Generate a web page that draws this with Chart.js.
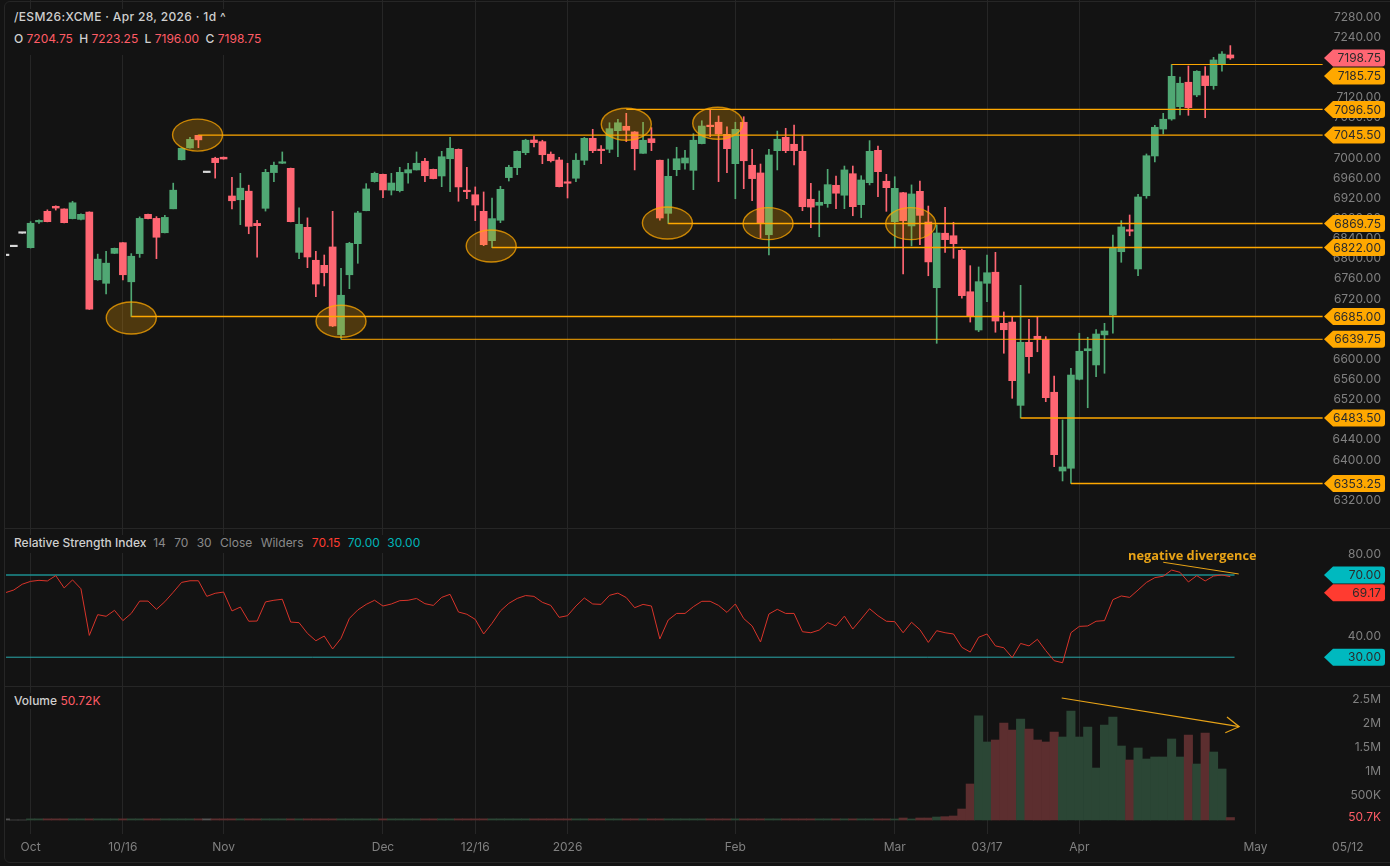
<!DOCTYPE html>
<html>
<head>
<meta charset="utf-8">
<title>/ESM26:XCME</title>
<script src="https://cdn.jsdelivr.net/npm/chart.js@4"></script>
<style>
    html, body { margin: 0; padding: 0; background: #131313; }
    body { width: 1390px; height: 866px; position: relative; overflow: hidden; font-family: Inter, sans-serif; }
    canvas { position: absolute; left: 0; display: block; }
    #frame { position: absolute; left: 4px; top: 1px; width: 1400px; height: 860px; border: 1px solid #262626; border-radius: 6px; box-sizing: content-box; }
    .divider { position: absolute; left: 5px; width: 1385px; height: 1px; background: #262626; }
    .legend { position: absolute; left: 14px; font-size: 12px; line-height: 16px; white-space: nowrap; color: #8a8a8a; background: #131313; padding-right: 6px; }
    .legend b { font-weight: 500; color: #cfcfcf; }
    .legend span { margin-right: 5px; }
    .red { color: #ff5c66; }
    .rsiRed { color: #ff3b30; }
    .teal { color: #00b3b8; }
    #note { position: absolute; left: 1128px; top: 546px; font: bold 12.8px "Open Sans", sans-serif; color: #e8a317; white-space: nowrap; }
</style>
</head>
<body>
<canvas id="priceChart" width="1390" height="528" style="top:0"></canvas>
<canvas id="rsiChart" width="1390" height="157" style="top:529px"></canvas>
<canvas id="volumeChart" width="1390" height="179" style="top:687px"></canvas>
<div id="frame"></div>
<div class="divider" style="top:528px"></div>
<div class="divider" style="top:686px"></div>
<div class="legend" style="top:9px; height:46px; width:270px; letter-spacing:0.35px">
    <b>/ESM26:XCME · Apr 28, 2026 · 1d ^</b><br>
    <div style="margin-top:6px; letter-spacing:0"><b>O</b> <span class="red" style="margin-right:3px">7204.75</span> <b>H</b> <span class="red" style="margin-right:3px">7223.25</span> <b>L</b> <span class="red" style="margin-right:3px">7196.00</span> <b>C</b> <span class="red">7198.75</span></div>
</div>
<div class="legend" style="top:535px; height:18px">
    <b>Relative Strength Index</b>&nbsp; <span>14</span> <span>70</span> <span>30</span> <span>Close</span> <span>Wilders</span> <span class="rsiRed" style="margin-right:4px">70.15</span> <span class="teal" style="margin-right:4px">70.00</span> <span class="teal">30.00</span>
</div>
<div class="legend" style="top:693px">
    <b>Volume</b> <span class="red">50.72K</span>
</div>
<div id="note">negative divergence</div>

<script>
// Candles, one entry per trading day. The first entry sits 3 days left of the Oct tick.
const firstDay = -3;

const opens = [6806, 6823.75, 6850.5,
    6821.75, 6873, 6894, 6904, 6898.75, 6879.5, 6878, 6892.75, 6758, 6751,
    6810.5, 6831.75, 6754, 6810, 6888, 6880, 6851.5, 6899, 6996.5, 7020,
    7045, 6971, 6999.5, 7001.5, 6924.5, 6917, 6934, 6870, 6900, 6971,
    6989.5, 6979.5, 6812.5, 6862.25, 6796.75, 6786.75, 6823.25, 6649, 6768, 6829.75,
    6895.25, 6953, 6967.5, 6936, 6935, 6970.25, 6976.25, 6993.5, 6977.5, 6964.25,
    6998.5, 7017.25, 6935, 6927, 6894, 6835.75, 6876.25, 6961, 6980.75, 7010.5,
    7035.75, 7032.5, 7007.5, 6996, 6951.75, 6959.75, 6995.5, 7039, 7017.25, 7017.25,
    7054.25, 7063, 7051.75, 7009.25, 7038.25, 6995.5, 6890, 6976.75, 6990, 6975.5,
    7028.5, 7065, 7071, 7047, 6988.75, 7071, 6985.5, 6970.25, 6847.5, 7014.5,
    7041, 7027.25, 7013.25, 6918, 6906, 6909.25, 6945.75, 6926, 6968.75, 6907.25,
    6951, 7015.25, 6953.75, 6873.5, 6931, 6865, 6933.75, 6872.75, 6742.25, 6850.5,
    6845.5, 6816.5, 6734.25, 6658.25, 6751, 6773, 6671.5, 6674, 6508.5, 6633.75,
    6645.75, 6639, 6534.5, 6378, 6383.5, 6560.25, 6617, 6588.75, 6648.5, 6688,
    6813.75, 6857.5, 6779.5, 6925, 7004, 7057.5, 7077.5, 7102, 7150.5, 7125.25,
    7163, 7143.75, 7186.25, 7204.75];

const highs = [6806, 6823.75, 6850.5,
    6873.5, 6877, 6897, 6905, 6899, 6914, 6889, 6893, 6809, 6814.5,
    6821, 6832, 6810, 6883, 6888.5, 6883.5, 6886, 6950, 7020, 7041,
    7045.5, 6971, 7001.5, 7002, 6961.5, 6969.5, 6946, 6876, 6977.5, 6992,
    7012, 6980, 6901, 6881, 6814.5, 6807.25, 6894, 6780.75, 6832.5, 6894,
    6949, 6972, 6968, 6969.5, 6981.5, 6989.5, 7012, 6999.5, 6978, 7013.25,
    7041, 7018, 6981.5, 6942.5, 6932.5, 6920.5, 6943.75, 6985.5, 7014, 7037.25,
    7043.75, 7035.25, 7012, 7001.5, 6989.5, 7008.5, 7041, 7057, 7024.5, 7070,
    7077, 7088.75, 7052.5, 7071, 7060.25, 6996, 6998, 7021.25, 7015.25, 7048.25,
    7074, 7096.5, 7083.5, 7062, 7071, 7082, 7017.25, 6988, 7017.25, 7053.5,
    7059, 7065.5, 7043.75, 6949.75, 6934.5, 6977.5, 6964.25, 6984, 6984, 6964.75,
    7034.5, 7023.75, 6967.5, 6962.75, 6932, 6946.5, 6954.25, 6904.5, 6867, 6902,
    6872.25, 6819, 6786, 6783.5, 6807.25, 6812.5, 6694, 6685, 6747, 6679.5,
    6683.5, 6645, 6566.75, 6479.5, 6582, 6651.75, 6643.75, 6659, 6671.5, 6847,
    6875.5, 6886.75, 6928, 7008, 7065, 7088.75, 7185.75, 7160.5, 7182.75, 7173.5,
    7181.5, 7200, 7211.25, 7223.25];

const lows = [6806, 6823.75, 6850.5,
    6821, 6870, 6873, 6896.5, 6871, 6879, 6877, 6699, 6757, 6730,
    6810, 6757.5, 6685, 6802.5, 6879, 6800, 6851, 6899, 6996, 7019.5,
    7020.5, 6971, 6960, 6997.5, 6899, 6867.5, 6849.5, 6803, 6894.5, 6953,
    6989, 6873, 6800, 6782, 6724.5, 6745.75, 6665, 6639.75, 6740.25, 6790.75,
    6895, 6952, 6921, 6926.5, 6932.5, 6949.75, 6976, 6953, 6958.5, 6943,
    6933, 6914, 6919, 6875.5, 6825.75, 6822, 6871.5, 6954.25, 6966.75, 7006.5,
    7022, 6988.75, 6992, 6942.5, 6920.5, 6953, 6986.75, 7010.5, 6988.75, 7010.5,
    7002.5, 7032.5, 6976.25, 7009, 7014.5, 6876.25, 6869.75, 6964.75, 6978, 6937,
    7028, 7042.25, 6953, 6970.75, 6919, 6939, 6915.25, 6841, 6807.25, 6976.25,
    7010.5, 6986, 6895.25, 6861.5, 6843.5, 6902, 6899.25, 6899.25, 6885.25, 6881.5,
    6946.5, 6923, 6894, 6822.5, 6769.5, 6825.25, 6827.75, 6766, 6631.75, 6812.5,
    6800.75, 6721.25, 6674, 6655, 6714.5, 6653.75, 6612, 6522.5, 6483.5, 6572.25,
    6615, 6515.75, 6386.5, 6358.25, 6353.25, 6559, 6503.75, 6565.5, 6572.25, 6651.75,
    6792.75, 6845.5, 6766, 6920, 6992, 7047.75, 7075, 7085.5, 7084.75, 7121.75,
    7080, 7136.5, 7172.25, 7196];

const closes = [6806, 6823.75, 6850.5,
    6870.25, 6876, 6873.5, 6900.5, 6871.5, 6911, 6888, 6699.5, 6799, 6791,
    6820.5, 6768, 6804.75, 6880, 6879.5, 6842.5, 6882, 6936, 7019.25, 7037,
    7036, 6971, 6990.75, 6998, 6915, 6940, 6864.25, 6865.5, 6971.5, 6985.5,
    6991.5, 6873.5, 6868.25, 6803.25, 6749.5, 6772, 6666.25, 6727.25, 6830.5, 6890.75,
    6938.5, 6969.5, 6936.5, 6950.25, 6971.5, 6976.75, 6989.5, 6964.75, 6959, 7002.5,
    7019.25, 6942.5, 6933, 6906.5, 6827.75, 6879.5, 6937.75, 6981.5, 7013.25, 7035.25,
    7030.5, 7006.5, 6994.5, 6943, 6949.75, 6995.5, 7039, 7014.5, 7014.5, 7058.25,
    7070, 7055, 7018.5, 7035.25, 7030.5, 6880.75, 6963.5, 6998.5, 7000, 7035.25,
    7063.5, 7062.25, 7047.75, 7018.5, 7057, 6994.5, 6959, 6870.75, 7006, 7037.25,
    7014.5, 7014.5, 6903.25, 6902.5, 6912, 6947, 6930, 6976.25, 6903.25, 6956.25,
    7013.25, 6972.75, 6941, 6939.75, 6875.5, 6928.5, 6886, 6793.5, 6851, 6837.75,
    6829.75, 6726.5, 6686, 6754.25, 6772, 6676, 6658.75, 6557.5, 6633.75, 6605.25,
    6639.75, 6523.75, 6410.5, 6386, 6568.75, 6616, 6621, 6650.25, 6656.25, 6822.5,
    6863, 6854.5, 6922.5, 7004.5, 7061, 7077, 7162.25, 7148.5, 7100, 7172.25,
    7143.75, 7194.75, 7206.5, 7198.75];

const rsiValues = [61.4, 62.7, 65.5,
    66.9, 67.4, 67.1, 69.7, 63.7, 67.6, 63.3, 40.6, 50.7, 49.9,
    52.8, 47.8, 51.3, 57.3, 57.3, 53.3, 57, 61.6, 66.4, 67.2,
    67.2, 59.6, 61.1, 61.7, 52.5, 54.4, 47.5, 47.6, 56.9, 57.7,
    58.2, 47.1, 46.8, 41.6, 38, 40.3, 34, 39.2, 48.9, 53,
    55.7, 57.7, 54.9, 55.9, 57.5, 57.7, 58.6, 56.05, 55.2, 59.1,
    60.6, 52, 50.9, 48.4, 41.3, 46.5, 52.5, 56.2, 58.6, 60,
    59.6, 56.7, 55.2, 49.4, 50.2, 54.9, 58.8, 55.9, 55.7, 60.1,
    61.2, 59, 54.1, 55.7, 54.9, 38.9, 48.1, 51.3, 51.3, 54.6,
    57.2, 57.2, 55.2, 51.8, 55.9, 48.8, 45.2, 37.4, 51, 53.3,
    51.3, 51.3, 42.4, 41.9, 43.2, 46.8, 45.2, 50, 43.7, 48.6,
    53.6, 50.2, 47.5, 47.3, 41.9, 47, 43.4, 37.2, 42.9, 41.9,
    41.3, 34.8, 32.5, 39.7, 41.3, 35.5, 34.6, 29.8, 36.7, 35.5,
    38.7, 33.2, 28.3, 27.3, 41.9, 45, 45.2, 47.5, 47.8, 58,
    59.8, 59.1, 62.7, 66.4, 68.7, 69.4, 72.4, 71.3, 66.6, 69.7,
    67.1, 69.5, 70, 69.17];

const volumes = [24000, 0, 0,
    24000, 24000, 24000, 24000, 24000, 24000, 24000, 24000, 24000, 24000,
    24000, 24000, 24000, 24000, 24000, 24000, 24000, 24000, 24000, 24000,
    24000, 24000, 24000, 24000, 24000, 24000, 24000, 24000, 24000, 24000,
    24000, 24000, 24000, 24000, 24000, 24000, 24000, 24000, 24000, 24000,
    24000, 24000, 24000, 24000, 24000, 24000, 24000, 24000, 24000, 24000,
    24000, 24000, 24000, 24000, 24000, 24000, 24000, 24000, 24000, 24000,
    24000, 24000, 24000, 24000, 24000, 24000, 24000, 24000, 24000, 24000,
    24000, 24000, 24000, 24000, 24000, 24000, 24000, 24000, 24000, 24000,
    24000, 24000, 24000, 24000, 24000, 24000, 24000, 24000, 24000, 24000,
    24000, 24000, 24000, 24000, 24000, 24000, 24000, 24000, 24000, 24000,
    24000, 24000, 24000, 21000, 41000, 21000, 41000, 41000, 62000, 69000,
    83000, 227000, 744000, 2150000, 1612000, 1653000, 2004000, 1859000, 2087000, 1880000,
    1653000, 1612000, 1818000, 1715000, 2252000, 1715000, 1921000, 1074000, 1963000, 2128000,
    1529000, 1240000, 1488000, 1260000, 1302000, 1302000, 1674000, 1302000, 1756000, 1157000,
    1797000, 1405000, 1054000, 50720];

// Time axis
const dayTicks = [0, 11, 23, 42, 53, 64, 84, 103, 114, 125, 146, 157];
const dayLabels = ['Oct', '10/16', 'Nov', 'Dec', '12/16', '2026', 'Feb', 'Mar', '03/17', 'Apr', 'May', '05/12'];

// Value axes
const priceTicks = [7280, 7240, 7200, 7160, 7120, 7080, 7040, 7000, 6960, 6920, 6880, 6840, 6800, 6760, 6720, 6680, 6640, 6600, 6560, 6520, 6480, 6440, 6400, 6360, 6320];
const rsiTicks = [80, 40];
const volumeTicks = [2500000, 2000000, 1500000, 1000000, 500000, 50720];
const volumeTickLabels = ['2.5M', '2M', '1.5M', '1M', '500K', '50.7K'];

// Support and resistance levels: start day, price
const levelDays = [136, 71, 20, 76, 55, 12, 37, 118, 124];
const levelPrices = [7185.75, 7096.5, 7045.5, 6869.75, 6822, 6685, 6639.75, 6483.5, 6353.25];
const levelEndDay = 154;

// Circled swing points: day, price
const ringDays = [19.9, 12, 37, 54.9, 75.9, 71, 81.9, 87.9, 104.9];
const ringPrices = [7045.5, 6682, 6675.5, 6825, 6870.75, 7067, 7069, 6869.5, 6869.5];

// Hand drawn trend lines
const rsiTrendDays = [135, 144];
const rsiTrendValues = [76.2, 70.5];
const volArrowDays = [122.9, 144.05];
const volArrowValues = [2520000, 1928000];
const volHeadDays = [142.6, 144.05, 142.4];
const volHeadValues = [2128000, 1928000, 1804000];

const GREEN = '#50a874', RED = '#ff6673', DOJI = '#d8d8d8';
const ORANGE = '#ffa800', TEAL = '#00b9bf';

const days = opens.map((_, i) => firstDay + i);
const candleColors = opens.map((o, i) => closes[i] > o ? GREEN : closes[i] < o ? RED : DOJI);
const volumeColors = opens.map((o, i) => closes[i] > o ? '#2b4635' : closes[i] < o ? '#5c2e2f' : '#555555');

Chart.defaults.font.family = 'Inter, sans-serif';
Chart.defaults.font.size = 12;
Chart.defaults.animation = false;
Chart.defaults.plugins.legend.display = false;
Chart.defaults.plugins.tooltip.enabled = false;

// Shared time axis, day 0 lands on x=30.6 and one day is 8.39px
function timeAxis(showLabels) {
    return {
        type: 'linear',
        min: -2.932,
        max: 162.03,
        offset: false,
        border: { display: false },
        grid: {
            offset: false,
            drawTicks: false,
            color: ctx => ctx.tick && ctx.tick.value === 157 ? 'transparent' : '#262626'
        },
        ticks: {
            display: showLabels,
            autoSkip: false,
            maxRotation: 0,
            padding: 6,
            color: '#808080',
            callback: value => dayLabels[dayTicks.indexOf(value)]
        },
        afterBuildTicks: scale => { scale.ticks = dayTicks.map(value => ({ value })); },
        afterFit: scale => {
            scale.height = showLabels ? 32 : 0;
            scale.paddingLeft = 0;
            scale.paddingRight = 0;
        }
    };
}

function valueAxis(min, max, tickValues, format, color) {
    return {
        position: 'right',
        min: min,
        max: max,
        border: { display: false },
        grid: { display: false, drawTicks: false },
        ticks: {
            mirror: true,
            // mirrored labels are placed from the axis edge, negative pulls them back inside
            padding: -9,
            color: color || '#808080',
            callback: format
        },
        afterBuildTicks: scale => { scale.ticks = tickValues.map(value => ({ value })); },
        afterFit: scale => {
            scale.width = 0;
            scale.paddingTop = 0;
            scale.paddingBottom = 0;
        }
    };
}

function line(points, color, width, order) {
    return {
        type: 'line',
        data: points,
        borderColor: color,
        borderWidth: width,
        pointRadius: 0,
        tension: 0,
        order: order
    };
}

// Right hand price flags
function drawTag(ctx, y, text, color) {
    const left = 1324, body = 1333, right = 1385, half = 8.5, r = 3;
    ctx.fillStyle = color;
    ctx.beginPath();
    ctx.moveTo(left, y);
    ctx.lineTo(body, y - half);
    ctx.arcTo(right, y - half, right, y + half, r);
    ctx.arcTo(right, y + half, body, y + half, r);
    ctx.lineTo(body, y + half);
    ctx.closePath();
    ctx.fill();
    ctx.fillStyle = '#2b2b2b';
    ctx.font = '12px Inter, sans-serif';
    ctx.textAlign = 'right';
    ctx.textBaseline = 'middle';
    ctx.fillText(text, 1381, y + 0.5);
}

const ringsPlugin = {
    id: 'rings',
    afterDatasetsDraw(chart) {
        const { ctx, scales } = chart;
        ctx.save();
        ringDays.forEach((day, i) => {
            ctx.beginPath();
            ctx.ellipse(scales.x.getPixelForValue(day), scales.y.getPixelForValue(ringPrices[i]), 25, 16, 0, 0, Math.PI * 2);
            ctx.fillStyle = 'rgba(255, 168, 0, 0.25)';
            ctx.fill();
            ctx.strokeStyle = 'rgba(255, 168, 0, 0.75)';
            ctx.lineWidth = 1.4;
            ctx.stroke();
        });
        ctx.restore();
    }
};

const priceTagsPlugin = {
    id: 'priceTags',
    afterDraw(chart) {
        const { ctx, scales } = chart;
        ctx.save();
        levelPrices.forEach(price => {
            // 7185.75 is pushed down by the last price flag
            const shift = price === 7185.75 ? 11.5 : 0;
            drawTag(ctx, scales.y.getPixelForValue(price) + shift, price.toFixed(2), ORANGE);
        });
        const last = closes[closes.length - 1];
        drawTag(ctx, scales.y.getPixelForValue(last), last.toFixed(2), '#ff6673');
        ctx.restore();
    }
};

const rsiTagsPlugin = {
    id: 'rsiTags',
    afterDraw(chart) {
        const { ctx, scales } = chart;
        ctx.save();
        drawTag(ctx, scales.y.getPixelForValue(70), '70.00', TEAL);
        drawTag(ctx, scales.y.getPixelForValue(30), '30.00', TEAL);
        // pushed below the 70 flag
        drawTag(ctx, scales.y.getPixelForValue(69.17) + 16, '69.17', '#ff3b30');
        ctx.restore();
    }
};

// Price pane: wicks and bodies are floating bars
new Chart(document.getElementById('priceChart'), {
    type: 'bar',
    data: {
        datasets: [
            ...levelPrices.map((price, i) => line([{ x: levelDays[i], y: price }, { x: levelEndDay, y: price }], ORANGE,
                price === 7185.75 || price === 6639.75 ? 1 : 1.4, 1)),
            {
                data: days.map((x, i) => ({ x: x, y: [opens[i], closes[i]] })),
                backgroundColor: candleColors,
                barThickness: 7,
                minBarLength: 1.5,
                grouped: false,
                order: 2
            },
            {
                data: days.map((x, i) => ({ x: x, y: [lows[i], highs[i]] })),
                backgroundColor: candleColors,
                barThickness: 1,
                grouped: false,
                order: 3
            }
        ]
    },
    options: {
        responsive: false,
        layout: { padding: { left: 6 } },
        scales: {
            x: timeAxis(false),
            y: valueAxis(6264.8, 7313.9, priceTicks, value => value.toFixed(2))
        }
    },
    plugins: [ringsPlugin, priceTagsPlugin]
});

// RSI pane
new Chart(document.getElementById('rsiChart'), {
    type: 'line',
    data: {
        datasets: [
            line(days.map((x, i) => ({ x: x, y: rsiValues[i] })), '#d8342a', 1, 2),
            line([{ x: firstDay, y: 70 }, { x: 143.5, y: 70 }], '#1c8f90', 1.3, 3),
            line([{ x: firstDay, y: 30 }, { x: 143.5, y: 30 }], '#2aa9ab', 1, 3),
            line(rsiTrendDays.map((x, i) => ({ x: x, y: rsiTrendValues[i] })), '#e8a317', 1, 1)
        ]
    },
    options: {
        responsive: false,
        layout: { padding: { left: 6 } },
        scales: {
            x: timeAxis(false),
            y: valueAxis(15.99, 92.38, rsiTicks, value => value.toFixed(2))
        }
    },
    plugins: [rsiTagsPlugin]
});

// Volume pane
new Chart(document.getElementById('volumeChart'), {
    type: 'bar',
    data: {
        datasets: [
            line(volArrowDays.map((x, i) => ({ x: x, y: volArrowValues[i] })), '#e8a317', 1.2, 1),
            line(volHeadDays.map((x, i) => ({ x: x, y: volHeadValues[i] })), '#e8a317', 1.2, 1),
            {
                data: days.map((x, i) => ({ x: x, y: volumes[i] })),
                backgroundColor: volumeColors,
                barPercentage: 1,
                categoryPercentage: 1,
                grouped: false,
                order: 2
            }
        ]
    },
    options: {
        responsive: false,
        layout: { padding: { left: 6 } },
        scales: {
            x: timeAxis(true),
            y: (() => {
                const axis = valueAxis(-289256, 2747934, volumeTicks, value => volumeTickLabels[volumeTicks.indexOf(value)]);
                axis.ticks.color = ctx => ctx.tick && ctx.tick.value === 50720 ? '#ff5c66' : '#808080';
                return axis;
            })()
        }
    }
});
</script>
</body>
</html>
